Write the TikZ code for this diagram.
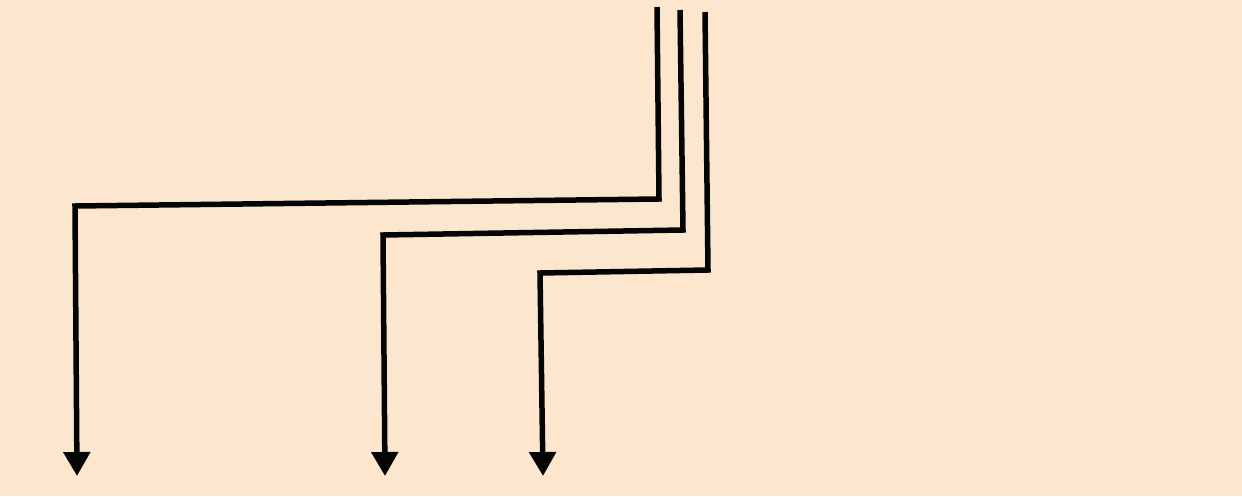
\documentclass[tikz,border=0pt]{standalone}
\usepackage{tikz}
\usetikzlibrary{arrows.meta}
\definecolor{peachback}{RGB}{252,230,205}
\definecolor{wireblack}{RGB}{5,5,5}

\begin{document}
\begin{tikzpicture}[
  x=1pt,y=-1pt,
  wire/.style={line width=5.5pt,draw=wireblack},
  arrow/.style={wire,-{Triangle[width=26pt,length=24pt]}}
]

% Background page.
\fill[peachback] (0,0) rectangle (1242,496);
\useasboundingbox (0,0) rectangle (1242,496);

% Start and end points of the three leads.
\coordinate (startA) at (657,7);
\coordinate (startB) at (680,10);
\coordinate (startC) at (705,12);
\coordinate (endA) at (77,476);
\coordinate (endB) at (385,476);
\coordinate (endC) at (543,476);

% Bends of each lead.
\coordinate (bendA1) at (659,199);
\coordinate (bendA2) at (75,206);
\coordinate (bendB1) at (683,230);
\coordinate (bendB2) at (383,235);
\coordinate (bendC1) at (708,270);
\coordinate (bendC2) at (540,273);

\draw[arrow] (startA) -- (bendA1) -- (bendA2) -- (endA);
\draw[arrow] (startB) -- (bendB1) -- (bendB2) -- (endB);
\draw[arrow] (startC) -- (bendC1) -- (bendC2) -- (endC);
\end{tikzpicture}
\end{document}
